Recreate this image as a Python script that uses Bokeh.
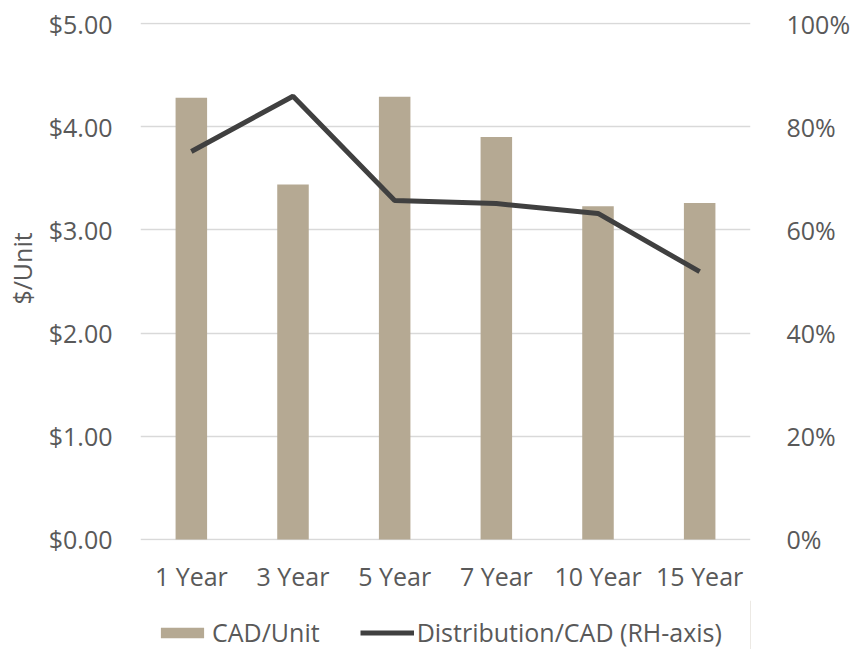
from bokeh.plotting import figure
from bokeh.layouts import column
from bokeh.models import (FactorRange, Range1d, LinearAxis, NumeralTickFormatter,
                          Legend, LegendItem, ColumnDataSource, FixedTicker)
from bokeh.embed import file_html
from bokeh.resources import INLINE

categories = ["1 Year", "3 Year", "5 Year", "7 Year", "10 Year", "15 Year"]
cad_per_unit = [4.28, 3.44, 4.29, 3.90, 3.23, 3.26]
dist_over_cad = [0.752, 0.859, 0.657, 0.651, 0.632, 0.519]
series_names = ["CAD/Unit", "Distribution/CAD (RH-axis)"]

FONT = "Open Sans"
TXT = "#595959"
FS = "25px"
BAR_C = "#b5a993"
LINE_C = "#404040"

src = ColumnDataSource(dict(cat=categories, cad=cad_per_unit, dist=dist_over_cad))

p = figure(frame_width=610, frame_height=518,
           x_range=FactorRange(*categories),
           y_range=Range1d(-0.01, 5.01), output_backend="svg", toolbar_location=None,
           min_border_left=140, min_border_right=106, min_border_top=22,
           min_border_bottom=60)
p.extra_y_ranges = {"pct": Range1d(-0.002, 1.002)}
p.outline_line_color = None
p.background_fill_color = "white"
p.border_fill_color = "white"

p.vbar(x="cat", top="cad", width=0.31, source=src, fill_color=BAR_C, line_color=None)
p.line(x="cat", y="dist", source=src, y_range_name="pct", line_color=LINE_C, line_width=5)

p.xgrid.grid_line_color = None
p.ygrid.grid_line_color = "#d9d9d9"
p.ygrid.grid_line_width = 1.3
p.yaxis.ticker = FixedTicker(ticks=[0, 1, 2, 3, 4, 5])
p.yaxis.formatter = NumeralTickFormatter(format="$0.00")
p.yaxis.axis_label = "\u00a0\u00a0\u00a0\u00a0$/Unit"

right = LinearAxis(y_range_name="pct", ticker=FixedTicker(ticks=[0, .2, .4, .6, .8, 1.0]),
                   formatter=NumeralTickFormatter(format="0%"))
p.add_layout(right, "right")

for ax in [p.yaxis[0], right, p.xaxis[0]]:
    ax.axis_line_color = None
    ax.major_tick_line_color = None
    ax.minor_tick_line_color = None
    ax.major_label_text_font = FONT
    ax.major_label_text_font_size = FS
    ax.major_label_text_color = TXT
    ax.axis_label_text_font = FONT
    ax.axis_label_text_font_size = FS
    ax.axis_label_text_color = TXT
    ax.axis_label_text_font_style = "normal"
p.yaxis[0].major_label_standoff = 22
right.major_label_standoff = 30
p.xaxis[0].major_label_standoff = 12
p.yaxis[0].axis_label_standoff = 7

# legend strip below the chart (its frame aligns with the main frame)
q = figure(width=856, height=49, x_range=Range1d(0, 1), y_range=Range1d(0, 1),
           x_axis_type=None, y_axis_type=None, output_backend="svg",
           toolbar_location=None, min_border=0)
q.outline_line_color = None
q.background_fill_color = "white"
q.border_fill_color = "white"
q.xgrid.visible = False
q.ygrid.visible = False
# legend-only renderers, placed outside the visible range
lb = q.vbar(x=[5], top=[1], width=0.1, fill_color=BAR_C, line_color=None)
ll = q.line(x=[5, 6], y=[0.5, 0.5], line_color=LINE_C, line_width=5)
legend = Legend(items=[LegendItem(label=series_names[0], renderers=[lb]),
                       LegendItem(label=series_names[1], renderers=[ll])],
                orientation="horizontal", location=(15, 0),
                label_text_font=FONT, label_text_font_size=FS,
                label_text_color=TXT, glyph_width=54, glyph_height=13,
                label_standoff=3, spacing=40, border_line_color=None,
                background_fill_alpha=0, margin=0, padding=0)
q.add_layout(legend, "center")

open("out.html", "w").write(file_html(column(p, q, spacing=0), INLINE))
